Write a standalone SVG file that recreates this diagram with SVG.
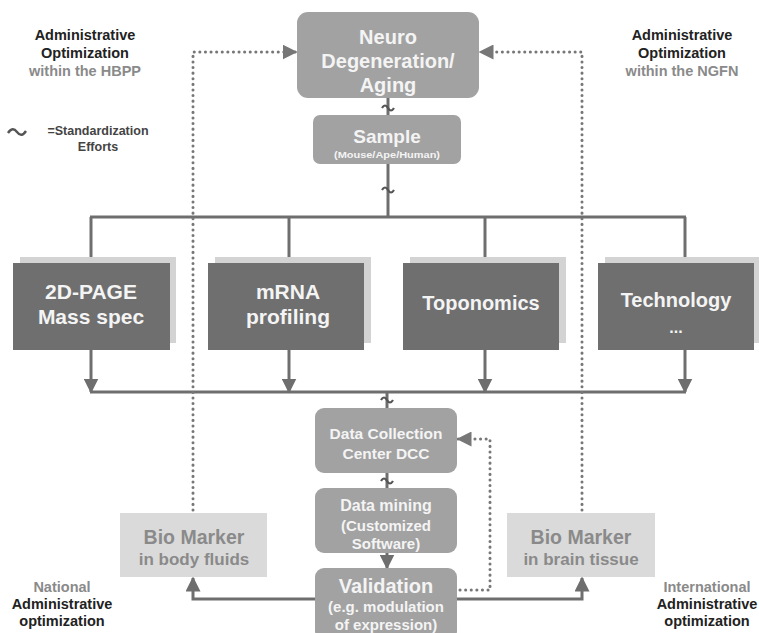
<svg xmlns="http://www.w3.org/2000/svg" width="759" height="633" viewBox="0 0 759 633">
<style>
text{font-family:"Liberation Sans",Arial,sans-serif;font-weight:bold;text-anchor:middle}
.mid{fill:#a2a2a2}
.dark{fill:#6f6f6f}
.shadow{fill:#d3d3d3}
.light{fill:#dadada}
.wt{fill:#f4f4f4}
.gt{fill:#8a8a8a}
.bt{fill:#222}
.lg{fill:#444}
.ln{stroke:#6e6e6e;stroke-width:3;fill:none}
.dot{stroke:#777;stroke-width:3;fill:none;stroke-dasharray:0.1 5.5;stroke-linecap:round}
.tl{stroke:#555;stroke-width:2.2;fill:none}
</style>
<defs>
<marker id="ah" viewBox="0 0 10 10" refX="9" refY="5" markerWidth="5" markerHeight="5" orient="auto" markerUnits="strokeWidth">
<path d="M0,0 L10,5 L0,10 Z" fill="#6e6e6e"/>
</marker>
<marker id="ahd" viewBox="0 0 10 10" refX="9" refY="5" markerWidth="5" markerHeight="5" orient="auto" markerUnits="strokeWidth">
<path d="M0,0 L10,5 L0,10 Z" fill="#777"/>
</marker>
</defs>

<g id="connectors">
<line class="ln" x1="388" y1="98" x2="388" y2="115"/>
<line class="ln" x1="388" y1="164" x2="388" y2="217"/>
<line class="ln" x1="90" y1="217" x2="686" y2="217"/>
<line class="ln" x1="91" y1="217" x2="91" y2="263"/>
<line class="ln" x1="289" y1="217" x2="289" y2="263"/>
<line class="ln" x1="485" y1="217" x2="485" y2="263"/>
<line class="ln" x1="685" y1="217" x2="685" y2="263"/>
<line class="ln" x1="91" y1="350" x2="91" y2="392" marker-end="url(#ah)"/>
<line class="ln" x1="289" y1="350" x2="289" y2="392" marker-end="url(#ah)"/>
<line class="ln" x1="485" y1="350" x2="485" y2="392" marker-end="url(#ah)"/>
<line class="ln" x1="685" y1="350" x2="685" y2="392" marker-end="url(#ah)"/>
<line class="ln" x1="90" y1="392" x2="686" y2="392"/>
<line class="ln" x1="387" y1="392" x2="387" y2="408"/>
<line class="ln" x1="387" y1="473" x2="387" y2="488"/>
<line class="ln" x1="387" y1="553" x2="387" y2="568" marker-end="url(#ah)"/>
<polyline class="ln" points="315,599 193,599 193,578" marker-end="url(#ah)"/>
<polyline class="ln" points="457,599 582,599 582,578" marker-end="url(#ah)"/>
<polyline class="dot" points="193,510 193,52 296,52" marker-end="url(#ahd)"/>
<polyline class="dot" points="582,510 582,52 480,52" marker-end="url(#ahd)"/>
<polyline class="dot" points="460,590 490,590 490,439 458,439" marker-end="url(#ahd)"/>
<path class="tl" d="M382,108 q3,-5 6,0 q3,5 6,0"/>
<path class="tl" d="M382,190 q3,-5 6,0 q3,5 6,0"/>
<path class="tl" d="M381,400 q3,-5 6,0 q3,5 6,0"/>
<path class="tl" d="M381,481 q3,-5 6,0 q3,5 6,0"/>
</g>

<g id="neuro">
<rect class="mid" x="297" y="12" width="182" height="86" rx="11"/>
<text class="wt" x="388" y="44" font-size="20">Neuro</text>
<text class="wt" x="388" y="68" font-size="20">Degeneration/</text>
<text class="wt" x="388" y="92" font-size="20">Aging</text>
</g>
<g id="sample">
<rect class="mid" x="313" y="115" width="148" height="49" rx="7"/>
<text class="wt" x="387" y="143" font-size="19">Sample</text>
<text class="wt" x="387" y="158" font-size="9.5" textLength="106" lengthAdjust="spacingAndGlyphs">(Mouse/Ape/Human)</text>
</g>

<g id="page">
<rect class="shadow" x="20" y="257" width="156" height="86"/>
<rect class="dark" x="13" y="263" width="157" height="87"/>
<text class="wt" x="91" y="299" font-size="21">2D-PAGE</text>
<text class="wt" x="91" y="324" font-size="21">Mass spec</text>
</g>
<g id="mrna">
<rect class="shadow" x="215" y="257" width="156" height="86"/>
<rect class="dark" x="208" y="263" width="156" height="87"/>
<text class="wt" x="288" y="299" font-size="21">mRNA</text>
<text class="wt" x="288" y="324" font-size="21">profiling</text>
</g>
<g id="toponomics">
<rect class="shadow" x="410" y="257" width="156" height="86"/>
<rect class="dark" x="403" y="263" width="156" height="87"/>
<text class="wt" x="481" y="310" font-size="20">Toponomics</text>
</g>
<g id="technology">
<rect class="shadow" x="605" y="257" width="154" height="86"/>
<rect class="dark" x="598" y="263" width="156" height="87"/>
<text class="wt" x="676" y="307" font-size="20">Technology</text>
<text class="wt" x="676" y="333" font-size="16">...</text>
</g>

<g id="dcc">
<rect class="mid" x="315" y="408" width="142" height="65" rx="9"/>
<text class="wt" x="386" y="439" font-size="15.5">Data Collection</text>
<text class="wt" x="386" y="459" font-size="15.5">Center DCC</text>
</g>
<g id="mining">
<rect class="mid" x="315" y="488" width="142" height="65" rx="9"/>
<text class="wt" x="386" y="511" font-size="16">Data mining</text>
<text class="wt" x="386" y="531" font-size="15">(Customized</text>
<text class="wt" x="386" y="549" font-size="15">Software)</text>
</g>
<g id="validation">
<rect class="mid" x="315" y="568" width="142" height="72" rx="9"/>
<text class="wt" x="386" y="593" font-size="20">Validation</text>
<text class="wt" x="386" y="612" font-size="15">(e.g. modulation</text>
<text class="wt" x="386" y="630" font-size="15">of expression)</text>
</g>

<g id="biofluids">
<rect class="light" x="120" y="513" width="147" height="64"/>
<text class="gt" x="194" y="544" font-size="19.5">Bio Marker</text>
<text class="gt" x="194" y="565" font-size="17">in body fluids</text>
</g>
<g id="biobrain">
<rect class="light" x="507" y="513" width="148" height="64"/>
<text class="gt" x="581" y="544" font-size="19.5">Bio Marker</text>
<text class="gt" x="581" y="565" font-size="17">in brain tissue</text>
</g>

<g id="label-hbpp">
<text class="bt" x="85" y="40" font-size="14.5">Administrative</text>
<text class="bt" x="85" y="58" font-size="14.5">Optimization</text>
<text class="gt" x="85" y="76" font-size="14.5">within the HBPP</text>
</g>
<g id="label-ngfn">
<text class="bt" x="682" y="40" font-size="14.5">Administrative</text>
<text class="bt" x="682" y="58" font-size="14.5">Optimization</text>
<text class="gt" x="682" y="76" font-size="14.5">within the NGFN</text>
</g>
<g id="legend">
<path d="M8,133 q4.5,-7 9,-1 q4.5,6 9,-1" stroke="#555" stroke-width="2.4" fill="none"/>
<text class="lg" x="98" y="135" font-size="12.5">=Standardization</text>
<text class="lg" x="98" y="151" font-size="12.5">Efforts</text>
</g>
<g id="label-national">
<text class="gt" x="62" y="592" font-size="14.5">National</text>
<text class="bt" x="62" y="609" font-size="14.5">Administrative</text>
<text class="bt" x="62" y="626" font-size="14.5">optimization</text>
</g>
<g id="label-international">
<text class="gt" x="707" y="592" font-size="14.5">International</text>
<text class="bt" x="707" y="609" font-size="14.5">Administrative</text>
<text class="bt" x="707" y="626" font-size="14.5">optimization</text>
</g>
</svg>
